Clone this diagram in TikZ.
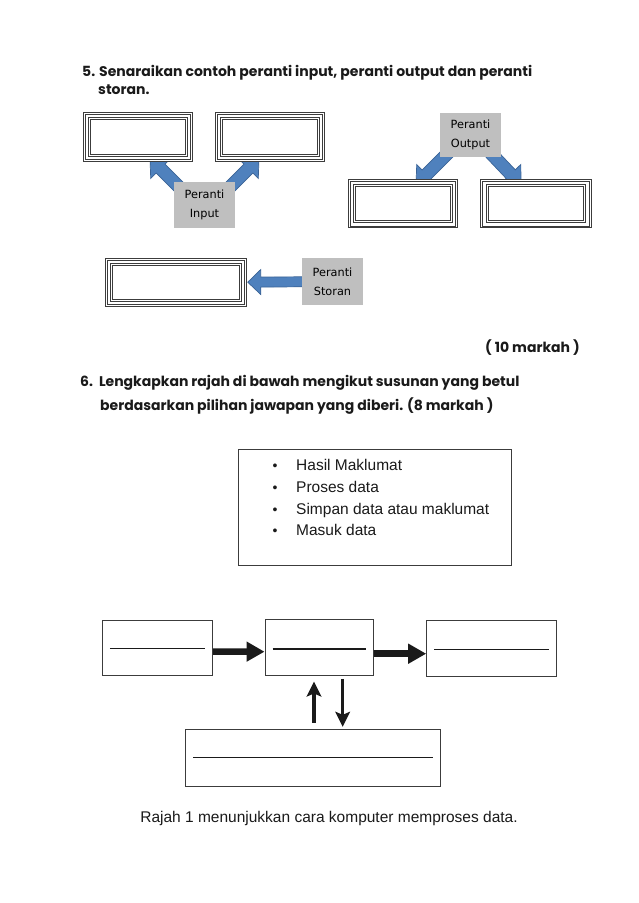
\documentclass[tikz,border=0pt]{standalone}
\usepackage{fontspec}
\setmainfont{Liberation Sans}
\newfontfamily\gothic{Poppins}
\newfontfamily\comic{DejaVu Sans}
\newfontfamily\arial{Liberation Sans}
\usetikzlibrary{arrows.meta,calc,backgrounds}
\definecolor{framec}{HTML}{3C3C3C}
\definecolor{grayfill}{HTML}{BFBFBF}
\definecolor{arrowfill}{HTML}{4F81BD}
\definecolor{arrowline}{HTML}{3A6396}
\definecolor{ink}{HTML}{1A1A1A}
\newcommand\dframe[1]{%
  \foreach \dd in {0,1.9,5.2,7.1}{%
    \draw[framec, line width=0.8pt] ([shift={(\dd pt,-\dd pt)}]#1.north west) rectangle ([shift={(-\dd pt,\dd pt)}]#1.south east);}}
\newcommand\barw{5}
\newcommand\headw{12.5}
\newcommand\headl{13}
\tikzset{
  barw/.code={\renewcommand\barw{#1}},
  headw/.code={\renewcommand\headw{#1}},
  headl/.code={\renewcommand\headl{#1}},
  titletext/.style={anchor=base west, inner sep=0pt, font=\gothic\bfseries\fontsize{14}{16}\selectfont, text=ink},
  dbox/.style={fill=white, inner sep=0pt, minimum height=48.3pt},
  graybox/.style={fill=grayfill, inner sep=0pt, minimum width=61pt, minimum height=46pt,
    align=center, font=\comic\fontsize{11.3}{18.5}\selectfont, text=black},
  blockarrow/.style={draw=arrowline, fill=arrowfill, line width=0.7pt, line join=miter,
    to path={let \p1=(\tikztostart), \p2=(\tikztotarget),
      \n1={atan2(\y2-\y1,\x2-\x1)}, \n2={veclen(\x2-\x1,\y2-\y1)} in
      ($(\p1)+({\n1+90}:\barw)$) -- ($(\p1)+({\n1+90}:\barw)+(\n1:{\n2-\headl})$)
      -- ($(\p1)+({\n1+90}:\headw)+(\n1:{\n2-\headl})$) -- (\p2)
      -- ($(\p1)+({\n1-90}:\headw)+(\n1:{\n2-\headl})$)
      -- ($(\p1)+({\n1-90}:\barw)+(\n1:{\n2-\headl})$) -- ($(\p1)+({\n1-90}:\barw)$) -- cycle}},
  diagarrow/.style={blockarrow, barw=6.3, headw=14, headl=15},
  plainbox/.style={draw=framec, line width=1pt, fill=white, inner sep=0pt},
  blank/.style={draw=ink, line width=1.3pt},
  listtext/.style={anchor=base west, inner sep=0pt, font=\arial\fontsize{15.5}{18}\selectfont, text=ink},
  bullet/.style={anchor=base, inner sep=0pt, font=\arial\fontsize{14}{16}\selectfont, text=ink},
  thickarr/.style={draw=ink, line width=6.5pt, -{Triangle[width=19pt,length=18pt]}},
  vertarr/.style={draw=ink, line width=3.3pt, -{Stealth[width=14.5pt,length=15pt,inset=3pt]}}
}
\begin{document}
\begin{tikzpicture}[x=1pt,y=1pt]
\useasboundingbox (0,0) rectangle (638,-903);

% ---------- Question 5 ----------
\node[titletext] (q5a) at (82,-76) {5. Senaraikan contoh peranti input, peranti output dan peranti};
\node[titletext] (q5b) at (98,-94) {storan.};

\node[dbox, minimum width=109pt] (ba) at (137.8,-136.9) {};
\node[dbox, minimum width=108.6pt] (bb) at (270,-136.9) {};
\node[dbox, minimum width=109pt] (bc) at (402.8,-203.5) {};
\node[dbox, minimum width=109.7pt] (bd) at (535.9,-203.5) {};
\node[dbox, minimum width=140.3pt, minimum height=47.7pt] (be) at (175.9,-282.2) {};
\dframe{ba}\dframe{bb}\dframe{bc}\dframe{bd}\dframe{be}

\node[graybox] (gin) at (204.5,-204.7) {Peranti\\Input};
\node[graybox, minimum height=44.3pt] (gout) at (470.5,-134.9) {Peranti\\Output};
\node[graybox, minimum width=61.6pt, minimum height=46.7pt] (gsto) at (332.5,-281.7) {Peranti\\Storan};

\coordinate (inLtail) at (188,-196);
\coordinate (inLtip) at (150,-158);
\coordinate (inRtail) at (221,-196);
\coordinate (inRtip) at (259,-158);
\coordinate (outLtail) at (454,-147);
\coordinate (outLtip) at (416,-185);
\coordinate (outRtail) at (485,-147);
\coordinate (outRtip) at (521,-185);
\coordinate (stoTail) at (312,-281.7);

\begin{scope}[on background layer]
  \fill[white] (0,0) rectangle (638,-903);
  \path[diagarrow] (inLtail) to (inLtip);
  \path[diagarrow] (inRtail) to (inRtip);
  \path[diagarrow] (outLtail) to (outLtip);
  \path[diagarrow] (outRtail) to (outRtip);
  \path[blockarrow] (stoTail) to ([xshift=1.5pt]be.east);
\end{scope}

% ---------- Question 6 ----------
\node[titletext, anchor=base east] (m10) at (580,-352) {( 10 markah )};
\node[titletext] (q6a) at (80,-386) {6.\ \ Lengkapkan rajah di bawah mengikut susunan yang betul};
\node[titletext] (q6b) at (100,-410) {berdasarkan pilihan jawapan yang diberi. (8 markah )};

\node[plainbox, minimum width=273pt, minimum height=116pt] (list) at (374.5,-507) {};
\node[bullet] (d1) at (275,-470.5) {•};
\node[listtext] (t1) at (296,-470.5) {Hasil Maklumat};
\node[bullet] (d2) at (275,-492.2) {•};
\node[listtext] (t2) at (296,-492.2) {Proses data};
\node[bullet] (d3) at (275,-514.5) {•};
\node[listtext] (t3) at (296,-514.5) {Simpan data atau maklumat};
\node[bullet] (d4) at (275,-535.5) {•};
\node[listtext] (t4) at (296,-535.5) {Masuk data};

\node[plainbox, minimum width=110.4pt, minimum height=55pt] (b1) at (157.5,-647.5) {};
\node[plainbox, minimum width=108.3pt, minimum height=55.5pt] (b2) at (319.2,-647.7) {};
\node[plainbox, minimum width=130pt, minimum height=55.7pt] (b3) at (491.7,-648.8) {};
\node[plainbox, minimum width=254.3pt, minimum height=56.7pt] (b4) at (312.9,-757.7) {};

\draw[blank] ([xshift=8pt,yshift=-0.8pt]b1.west) -- ([xshift=-8pt,yshift=-0.8pt]b1.east);
\draw[blank] ([xshift=8pt,yshift=-1.3pt]b2.west) -- ([xshift=-8pt,yshift=-1.3pt]b2.east);
\draw[blank] ([xshift=8pt,yshift=-0.5pt]b3.west) -- ([xshift=-8pt,yshift=-0.5pt]b3.east);
\draw[blank] ([xshift=8pt]b4.west) -- ([xshift=-8pt]b4.east);

\draw[thickarr] ([yshift=-4pt]b1.east) -- ([yshift=-4pt]b2.west);
\draw[thickarr] ([yshift=-6pt]b2.east) -- ([yshift=-6pt]b2.east -| b3.west);

\coordinate (upx) at (314,0);
\coordinate (dnx) at (342.7,0);
\draw[vertarr] ([yshift=6pt]b4.north -| upx) -- ([yshift=-5.5pt]b2.south -| upx);
\draw[vertarr] ([yshift=-3pt]b2.south -| dnx) -- ([yshift=2pt]b4.north -| dnx);

\node[anchor=base, inner sep=0pt, font=\arial\fontsize{15.5}{18}\selectfont, text=ink] (cap) at (329,-822)
  {Rajah 1 menunjukkan cara komputer memproses data.};
\end{tikzpicture}
\end{document}
